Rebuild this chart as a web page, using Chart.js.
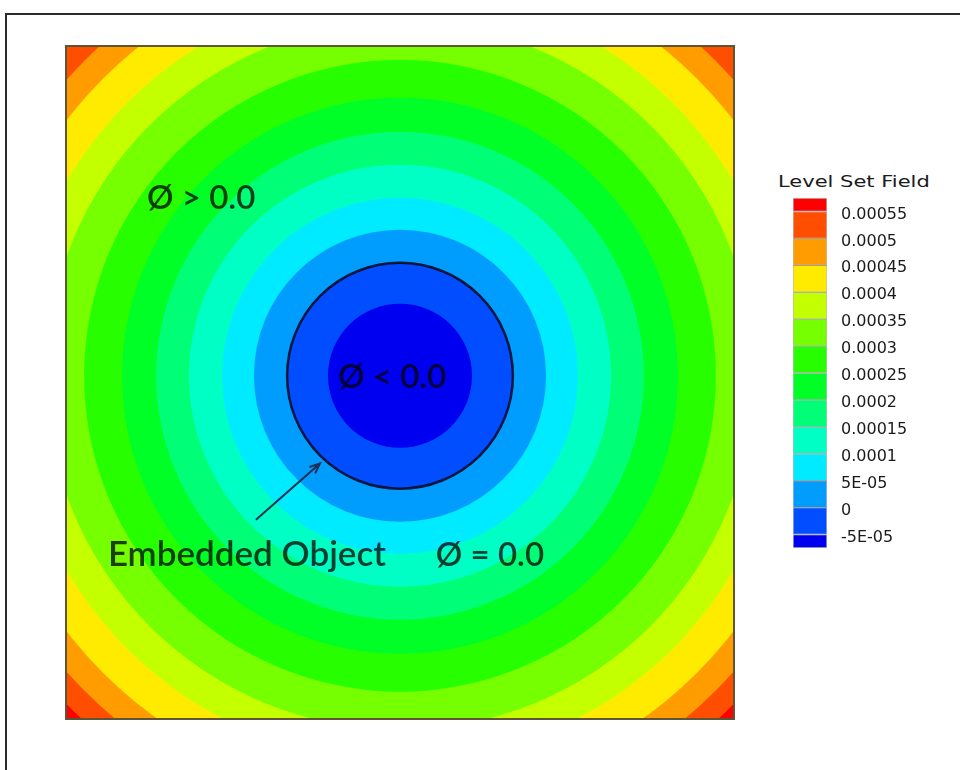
<!DOCTYPE html>
<html>
<head>
<meta charset="utf-8">
<title>Level Set Field</title>
<script src="https://cdn.jsdelivr.net/npm/chart.js"></script>
<style>
  html, body { margin: 0; padding: 0; background: #fff; overflow: hidden; }
  #page { position: relative; width: 960px; height: 770px; }
  #frame { position: absolute; left: 5px; top: 13px; width: 1000px; height: 1000px; border: 2px solid #2b2b2b; }
  #field { position: absolute; left: 65px; top: 45px; }
  #bar { position: absolute; left: 790px; top: 190px; }
  #barTitle { position: absolute; left: 778px; top: 173px; font: 15px "DejaVu Sans", sans-serif; line-height: 18px;
              color: #1a1a1a; white-space: nowrap; transform: scaleX(1.4); transform-origin: left top; }
</style>
</head>
<body>
<div id="page">
  <div id="frame"></div>
  <canvas id="field" width="670" height="675"></canvas>
  <div id="barTitle">Level Set Field</div>
  <canvas id="bar" width="170" height="370"></canvas>
</div>
<script>
// contour levels of the level set field (colour bar ticks)
const levels = [-5e-5, 0, 5e-5, 1e-4, 1.5e-4, 2e-4, 2.5e-4, 3e-4, 3.5e-4, 4e-4, 4.5e-4, 5e-4, 5.5e-4];
const levelLabels = ["-5E-05", "0", "5E-05", "0.0001", "0.00015", "0.0002", "0.00025",
                     "0.0003", "0.00035", "0.0004", "0.00045", "0.0005", "0.00055"];
// radius of each contour around the object centre, domain units (half width of the box = 1)
const levelRadius = [0.215, 0.337, 0.436, 0.531, 0.630, 0.728, 0.830, 0.943, 1.057, 1.152, 1.254, 1.331, 1.397];
const objectCentre = [0, 0.02];
// band colours, lowest band first (below -5E-05 ... above 0.00055)
const bandColors = ["#0000f0", "#004eff", "#009dff", "#00ebff", "#00ffc4", "#00ff76", "#00ff27",
                    "#27ff00", "#76ff00", "#c4ff00", "#ffeb00", "#ff9d00", "#ff4e00", "#ff0000"];
// ends of the colour bar (half blocks past the first and last level)
const barMin = -7.5e-5;
const barMax = 5.75e-4;

const contourPlugin = {
  id: "contours",
  beforeDatasetsDraw(chart) {
    const { ctx, chartArea, scales: { x, y } } = chart;
    const cx = x.getPixelForValue(objectCentre[0]);
    const cy = y.getPixelForValue(objectCentre[1]);
    ctx.save();
    ctx.beginPath();
    ctx.rect(chartArea.left, chartArea.top, chartArea.width, chartArea.height);
    ctx.clip();
    ctx.fillStyle = bandColors[bandColors.length - 1];
    ctx.fillRect(chartArea.left, chartArea.top, chartArea.width, chartArea.height);
    for (let i = levels.length - 1; i >= 0; i--) {
      const r = x.getPixelForValue(objectCentre[0] + levelRadius[i]) - cx;
      ctx.beginPath();
      ctx.arc(cx, cy, r, 0, Math.PI * 2);
      ctx.fillStyle = bandColors[i];
      ctx.fill();
    }
    // the embedded object: zero contour
    const r0 = x.getPixelForValue(objectCentre[0] + levelRadius[levels.indexOf(0)]) - cx;
    ctx.beginPath();
    ctx.arc(cx, cy, r0, 0, Math.PI * 2);
    ctx.lineWidth = 2.5;
    ctx.strokeStyle = "rgba(10,10,40,0.9)";
    ctx.stroke();
    ctx.restore();
  },
  afterDraw(chart) {
    const { ctx, chartArea, scales: { x, y } } = chart;
    ctx.save();
    ctx.fillStyle = "rgba(0,0,0,0.75)";
    ctx.textBaseline = "middle";
    ctx.textAlign = "left";
    const notes = [
      { text: "\u00D8 > 0.0", at: [-0.755, 0.547], size: 33 },
      { text: "\u00D8 < 0.0", at: [-0.185, 0.016], size: 33 },
      { text: "Embedded Object", at: [-0.872, -0.511], size: 35 },
      { text: "\u00D8 = 0.0", at: [0.107, -0.511], size: 33 }
    ];
    notes.forEach(n => {
      ctx.font = "600 " + n.size + "px Lato, 'Open Sans', sans-serif";
      ctx.fillText(n.text, x.getPixelForValue(n.at[0]), y.getPixelForValue(n.at[1]));
    });
    // arrow pointing at the object boundary
    const x1 = x.getPixelForValue(-0.430), y1 = y.getPixelForValue(-0.407);
    const x2 = x.getPixelForValue(-0.239), y2 = y.getPixelForValue(-0.240);
    const a = Math.atan2(y2 - y1, x2 - x1);
    ctx.strokeStyle = "#1c2f55";
    ctx.lineWidth = 2;
    ctx.beginPath();
    ctx.moveTo(x1, y1);
    ctx.lineTo(x2, y2);
    ctx.moveTo(x2 - 11 * Math.cos(a - 0.4), y2 - 11 * Math.sin(a - 0.4));
    ctx.lineTo(x2, y2);
    ctx.lineTo(x2 - 11 * Math.cos(a + 0.4), y2 - 11 * Math.sin(a + 0.4));
    ctx.stroke();
    // box outline
    ctx.strokeStyle = "#5e5436";
    ctx.lineWidth = 2;
    ctx.strokeRect(chartArea.left + 1, chartArea.top + 1, chartArea.width - 2, chartArea.height - 2);
    ctx.restore();
  }
};

new Chart(document.getElementById("field"), {
  type: "scatter",
  data: { datasets: [] },
  options: {
    responsive: false,
    animation: false,
    layout: { padding: 0 },
    plugins: { legend: { display: false }, tooltip: { enabled: false } },
    scales: {
      x: { type: "linear", min: -1, max: 1, display: false },
      y: { type: "linear", min: -1, max: 1, display: false }
    }
  },
  plugins: [contourPlugin]
});

new Chart(document.getElementById("bar"), {
  type: "bar",
  data: {
    labels: [""],
    datasets: bandColors.map((c, i) => ({
      data: [[i === 0 ? barMin : levels[i - 1], i === levels.length ? barMax : levels[i]]],
      backgroundColor: c,
      borderColor: "rgba(30,30,30,0.3)",
      borderWidth: 1,
      borderSkipped: false,
      stack: "bar",
      barPercentage: 1,
      categoryPercentage: 1
    }))
  },
  options: {
    responsive: false,
    animation: false,
    layout: { padding: { left: 3, top: 8, bottom: 12, right: 0 } },
    plugins: { legend: { display: false }, tooltip: { enabled: false } },
    scales: {
      x: { stacked: true, display: false },
      y: {
        stacked: false,
        position: "right",
        min: barMin,
        max: barMax,
        grid: { display: false, drawTicks: false },
        border: { display: false },
        afterBuildTicks: axis => { axis.ticks = levels.map(v => ({ value: v })); },
        afterFit: axis => {
          axis.width = 133;
          axis.paddingTop = 0;
          axis.paddingBottom = 0;
        },
        ticks: {
          autoSkip: false,
          padding: 14,
          labelOffset: 3,
          color: "#1a1a1a",
          font: { family: "DejaVu Sans", size: 16 },
          callback: (v, i) => levelLabels[i]
        }
      }
    }
  }
});
</script>
</body>
</html>
